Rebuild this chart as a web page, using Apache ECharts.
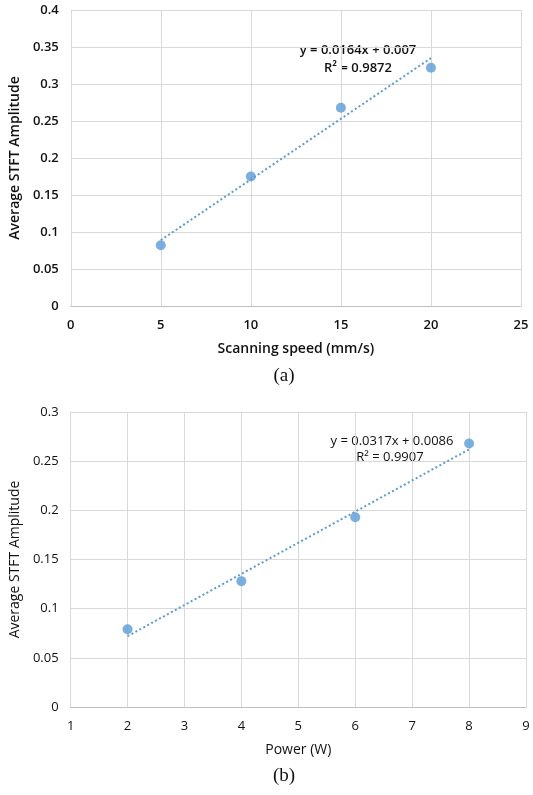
<!DOCTYPE html>
<html><head><meta charset="utf-8">
<script src="https://cdn.jsdelivr.net/npm/echarts@6/dist/echarts.min.js"></script>
<style>html,body{margin:0;padding:0;background:#fff}#c{width:533px;height:795px}</style>
</head><body><div id="c"></div>
<script>
// Chart (a)
const speedX = [5, 10, 15, 20];
const speedY = [0.082, 0.175, 0.268, 0.322];
const speedTrend = [[5, 0.089], [20, 0.335]];
const speedEq = ['y = 0.0164x + 0.007', 'R\u00B2 = 0.9872'];
// Chart (b)
const powerX = [2, 4, 6, 8];
const powerY = [0.079, 0.128, 0.193, 0.268];
const powerTrend = [[2, 0.072], [8, 0.262]];
const powerEq = ['y = 0.0317x + 0.0086', 'R\u00B2 = 0.9907'];
const labelsAB = ['(a)', '(b)'];

const font = '"Open Sans", "Liberation Sans", sans-serif';
const blue = '#5B9BD5';
const gridCol = '#d9d9d9';
const axisCol = '#bfbfbf';

function xAxis(idx, min, max, interval, name, weight) {
  return {
    gridIndex: idx, type: 'value', min, max, interval,
    name, nameLocation: 'middle', nameGap: 36,
    nameTextStyle: {fontFamily: font, fontSize: 14, color: '#111', fontWeight: weight},
    axisLine: {show: true, lineStyle: {color: axisCol, width: 1}},
    axisTick: {show: false},
    axisLabel: {fontFamily: font, fontSize: 13, color: '#111', margin: 13, fontWeight: weight},
    splitLine: {show: true, lineStyle: {color: gridCol, width: 1}}
  };
}
function yAxis(idx, max, weight) {
  return {
    gridIndex: idx, type: 'value', min: 0, max, interval: 0.05,
    name: 'Average STFT Amplitude', nameLocation: 'middle', nameGap: 44,
    nameTextStyle: {fontFamily: font, fontSize: 14, color: '#111', fontWeight: weight},
    axisLine: {show: false},
    axisTick: {show: false},
    axisLabel: {fontFamily: font, fontSize: 13, color: '#111', margin: 12, fontWeight: weight},
    splitLine: {show: true, lineStyle: {color: gridCol, width: 1}}
  };
}
function pts(xs, ys) { return xs.map((x, i) => [x, ys[i]]); }

const chart = echarts.init(document.getElementById('c'), null, {renderer: 'canvas'});
chart.setOption({
  animation: false,
  grid: [
    {left: 64, width: 457, top: 10, height: 296},
    {left: 64, width: 462, top: 412, height: 295}
  ],
  xAxis: [xAxis(0, 0, 25, 5, 'Scanning speed (mm/s)', 600), xAxis(1, 1, 9, 1, 'Power (W)', 'normal')],
  yAxis: [yAxis(0, 0.4, 600), yAxis(1, 0.3, 'normal')],
  series: [
    {type: 'line', xAxisIndex: 0, yAxisIndex: 0, data: speedTrend, symbol: 'none',
     lineStyle: {color: blue, width: 2, type: [2, 2.5]}, z: 2},
    {type: 'scatter', xAxisIndex: 0, yAxisIndex: 0, data: pts(speedX, speedY), symbolSize: 10,
     itemStyle: {color: blue}, z: 3},
    {type: 'line', xAxisIndex: 1, yAxisIndex: 1, data: powerTrend, symbol: 'none',
     lineStyle: {color: blue, width: 2, type: [2, 2.5]}, z: 2},
    {type: 'scatter', xAxisIndex: 1, yAxisIndex: 1, data: pts(powerX, powerY), symbolSize: 10,
     itemStyle: {color: blue}, z: 3}
  ],
  graphic: [
    {type: 'text', x: 358, y: 50, style: {text: speedEq[0], font: '600 13px ' + font, fill: '#111', align: 'center', verticalAlign: 'middle'}},
    {type: 'text', x: 358, y: 68, style: {text: speedEq[1], font: '600 13px ' + font, fill: '#111', align: 'center', verticalAlign: 'middle'}},
    {type: 'text', x: 392, y: 441, style: {text: powerEq[0], font: '13px ' + font, fill: '#111', align: 'center', verticalAlign: 'middle'}},
    {type: 'text', x: 390, y: 457, style: {text: powerEq[1], font: '13px ' + font, fill: '#111', align: 'center', verticalAlign: 'middle'}},
    {type: 'text', x: 284, y: 376, style: {text: labelsAB[0], font: '19px "Liberation Serif", serif', fill: '#111', align: 'center', verticalAlign: 'middle'}},
    {type: 'text', x: 284, y: 776, style: {text: labelsAB[1], font: '19px "Liberation Serif", serif', fill: '#111', align: 'center', verticalAlign: 'middle'}}
  ]
});
</script></body></html>
